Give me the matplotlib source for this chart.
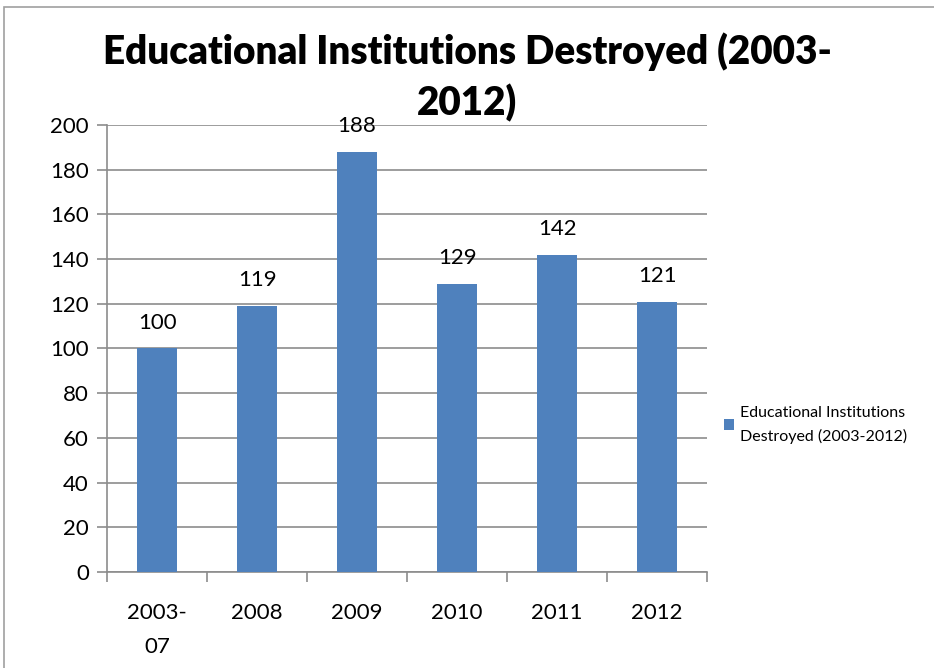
import numpy as np
import matplotlib.pyplot as plt
from matplotlib.patches import Rectangle

categories = ['2003-\n07', '2008', '2009', '2010', '2011', '2012']
destroyed = [100, 119, 188, 129, 142, 121]
series_name = 'Educational Institutions\nDestroyed (2003-2012)'

plt.rcParams['font.family'] = ['Lato', 'DejaVu Sans']
bar_color = '#4F81BD'
grid_color = '#8C8C8C'

fig = plt.figure(figsize=(9.34, 6.68), dpi=100)
ax = fig.add_axes([0.1146, 0.1437, 0.6424, 0.6692])

ind = np.arange(len(categories))
bars = ax.bar(ind, destroyed, 0.4, color=bar_color, zorder=3,
              label=series_name)

for x, v in zip(ind, destroyed):
    ax.text(x, v + 7, str(v), ha='center', va='bottom', fontsize=16)

ax.set_xlim(-0.5, len(categories) - 0.5)
ax.set_ylim(0, 200)
ax.set_yticks(np.arange(0, 201, 20))
ax.yaxis.grid(True, color=grid_color, linewidth=1.2, zorder=0)
ax.tick_params(axis='y', labelsize=16, length=7, color=grid_color, width=1.2, pad=6)

# category labels in the middle, tick marks on the boundaries
ax.set_xticks(ind)
ax.set_xticklabels(categories, fontsize=16, linespacing=1.9, va='top')
ax.tick_params(axis='x', which='major', length=0, pad=22)
ax.set_xticks(np.arange(-0.5, len(categories)), minor=True)
ax.tick_params(axis='x', which='minor', length=7, color=grid_color, width=1.2)

for s in ['top', 'right']:
    ax.spines[s].set_visible(False)
for s in ['left', 'bottom']:
    ax.spines[s].set_color(grid_color)
    ax.spines[s].set_linewidth(1.2)

fig.text(0.5, 0.922, 'Educational Institutions Destroyed (2003-',
         ha='center', va='center', fontsize=27.8, fontweight='heavy')
fig.text(0.5, 0.846, '2012)', ha='center', va='center',
         fontsize=27.8, fontweight='heavy')

leg = ax.legend(loc='center left', bbox_to_anchor=(0.775, 0.364),
                bbox_transform=fig.transFigure, frameon=False, fontsize=11.5,
                handlelength=0.65, handleheight=0.65, handletextpad=0.35,
                borderpad=0, borderaxespad=0)
leg.get_texts()[0].set_linespacing(1.7)

# outer chart border
fig.patches.append(Rectangle((4 / 934, -0.1), 1.2, 1.1 - 7 / 668,
                             transform=fig.transFigure, fill=False,
                             edgecolor='#A0A0A0', linewidth=1.2))

fig.savefig('out.png', dpi=100)
